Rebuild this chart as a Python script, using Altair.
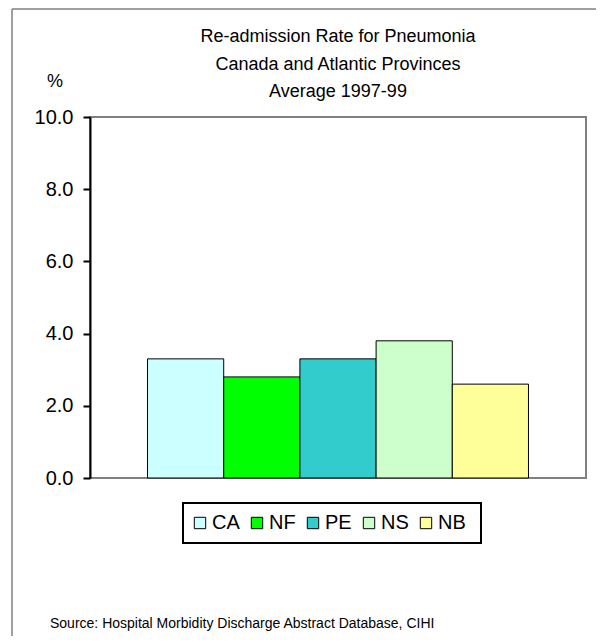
import altair as alt
import pandas as pd

provinces = ["CA", "NF", "PE", "NS", "NB"]
rates = [3.3, 2.8, 3.3, 3.8, 2.6]
colors = ["#CCFFFF", "#00FF00", "#33CCCC", "#CCFFCC", "#FFFF99"]
title_lines = ["Re-admission Rate for Pneumonia", "Canada and Atlantic Provinces", "Average 1997-99"]
y_ticks = [0, 2, 4, 6, 8, 10]
source = "Source: Hospital Morbidity Discharge Abstract Database, CIHI"

FONT = "Liberation Sans"
W, H = 496, 361

df = pd.DataFrame({"prov": provinces, "rate": rates})

bars = alt.Chart(df).mark_bar(stroke="black", strokeWidth=1).encode(
    x=alt.X("prov:N", sort=provinces,
            scale=alt.Scale(paddingInner=0, paddingOuter=0.755),
            axis=alt.Axis(labels=False, ticks=False, domain=False, title=None)),
    y=alt.Y("rate:Q", scale=alt.Scale(domain=[0, 10], nice=False),
            axis=alt.Axis(values=y_ticks, format=".1f", title=None, grid=False,
                          labelFont=FONT, labelFontSize=20, labelColor="black",
                          labelPadding=10, domainColor="black", domainWidth=2,
                          tickColor="black", tickWidth=2, tickSize=7)),
    color=alt.Color("prov:N", sort=provinces,
                    scale=alt.Scale(domain=provinces, range=colors),
                    legend=alt.Legend(orient="none", direction="horizontal",
                                      legendX=100, legendY=396, title=None,
                                      symbolType="square", symbolSize=130,
                                      symbolStrokeColor="black", symbolStrokeWidth=1,
                                      symbolOpacity=1,
                                      labelFont=FONT, labelFontSize=20, labelColor="black",
                                      labelOffset=2, columnPadding=7, padding=0)),
)

title = alt.Chart(pd.DataFrame({"t": [0]})).mark_text(
    font=FONT, fontSize=18, color="black", align="center", baseline="alphabetic",
    lineHeight=27.5
).encode(text=alt.value(title_lines), x=alt.value(W / 2), y=alt.value(-75))

pct = alt.Chart(pd.DataFrame({"t": ["%"]})).mark_text(
    font=FONT, fontSize=18, color="black", align="center", baseline="alphabetic"
).encode(text="t:N", x=alt.value(-35), y=alt.value(-30))

src = alt.Chart(pd.DataFrame({"t": [source]})).mark_text(
    font=FONT, fontSize=14, color="black", align="left", baseline="alphabetic"
).encode(text="t:N", x=alt.value(-40), y=alt.value(511))

legend_box = alt.Chart(pd.DataFrame({"t": [0]})).mark_rect(
    fill=None, stroke="black", strokeWidth=2
).encode(x=alt.value(93), x2=alt.value(391), y=alt.value(386), y2=alt.value(426))

frame_left = alt.Chart(pd.DataFrame({"t": [0]})).mark_rule(color="#808080", strokeWidth=1.5).encode(
    x=alt.value(-78), y=alt.value(-108), y2=alt.value(600))
frame_top = alt.Chart(pd.DataFrame({"t": [0]})).mark_rule(color="#808080", strokeWidth=1.5).encode(
    x=alt.value(-78), x2=alt.value(600), y=alt.value(-108))

chart = alt.layer(frame_left, frame_top, bars, legend_box, title, pct, src).properties(
    width=W, height=H,
    background="white",
    autosize=alt.AutoSizeParams(type="none"),
    padding={"left": 82, "top": 109, "right": 10, "bottom": 158},
).configure_view(stroke="#808080", strokeWidth=2)

chart.save("out.html", embed_options={"renderer": "svg", "actions": False})
